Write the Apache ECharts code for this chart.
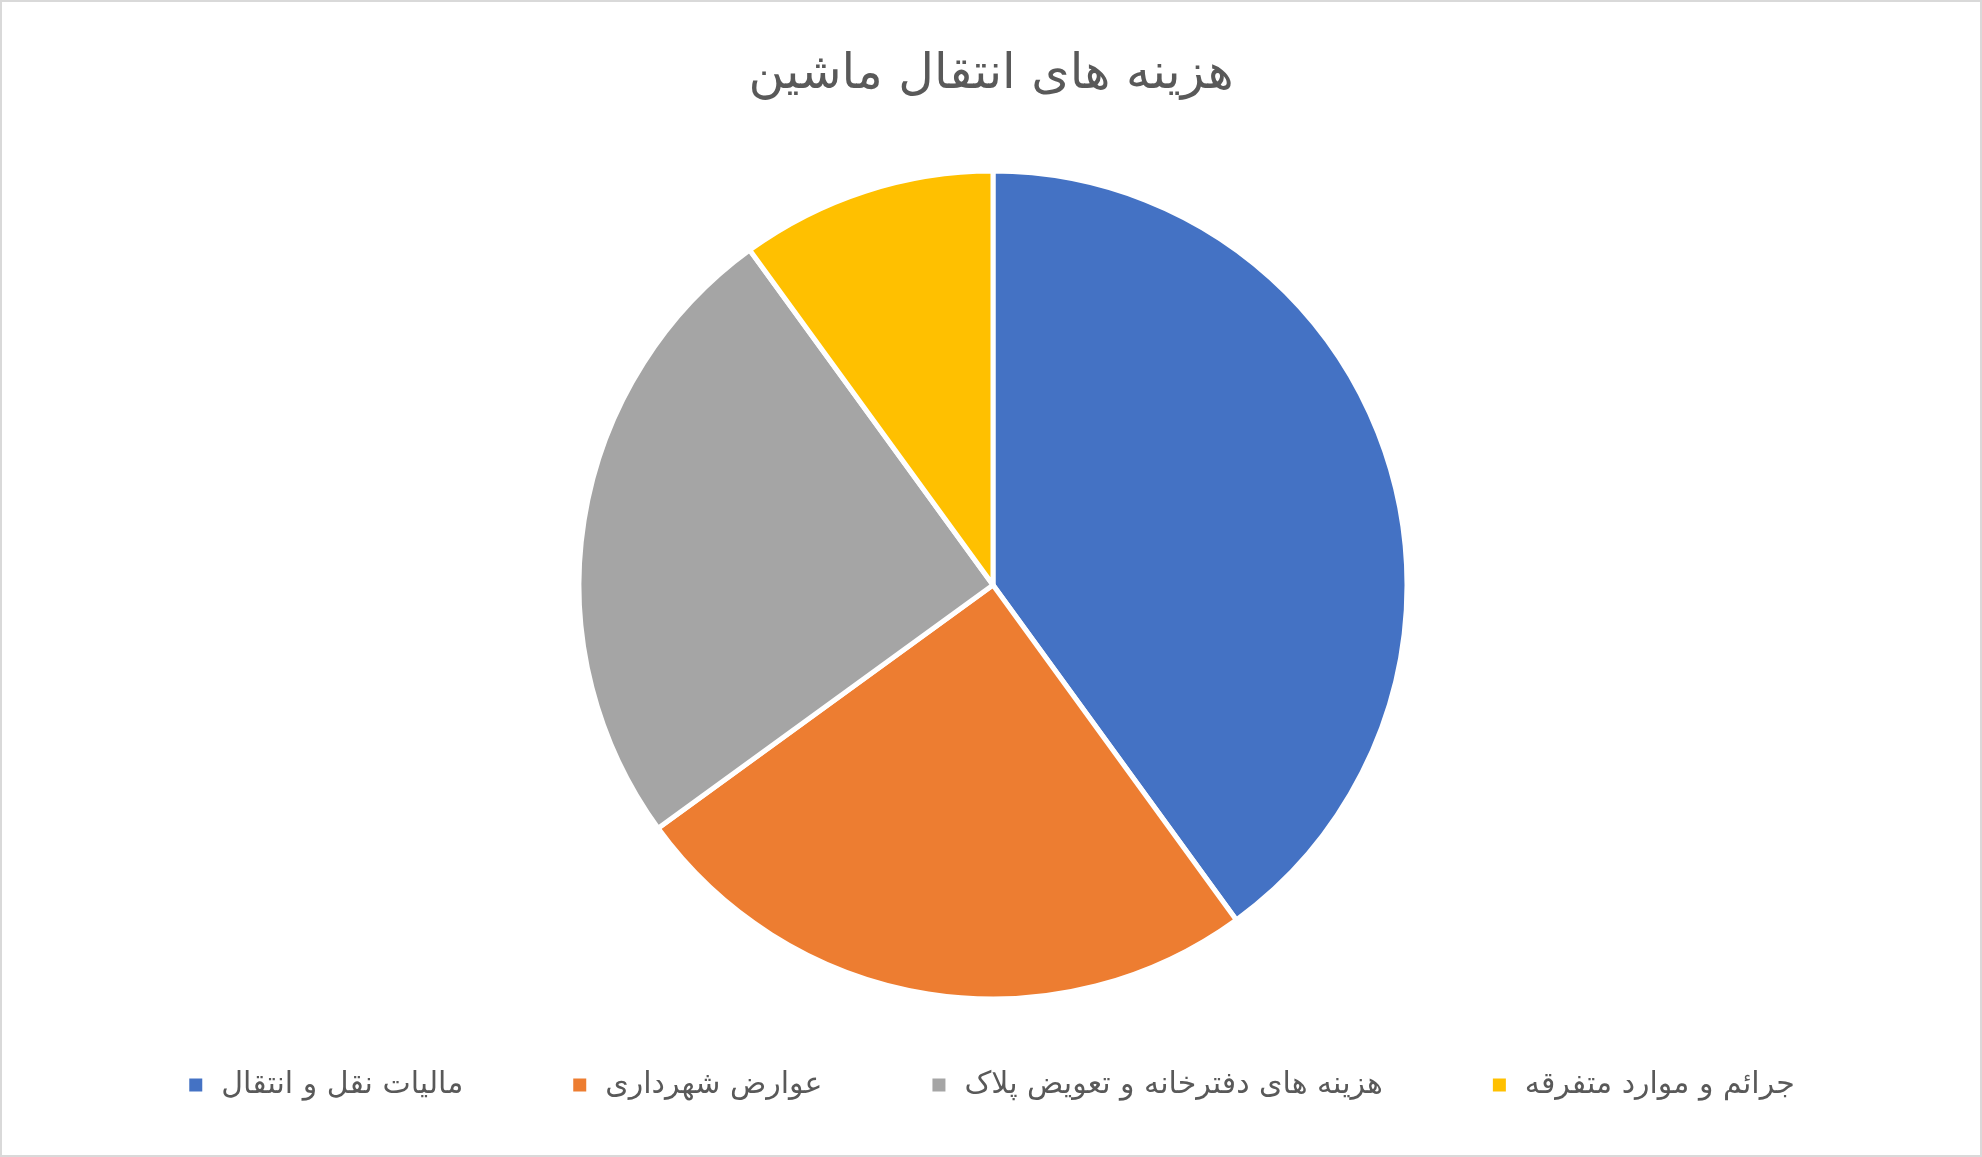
<!DOCTYPE html>
<html>
<head>
<meta charset="utf-8">
<script src="https://cdn.jsdelivr.net/npm/echarts@6/dist/echarts.min.js"></script>
<style>
html,body{margin:0;padding:0;background:#fff;}
#chart{width:1982px;height:1157px;box-sizing:border-box;border:2px solid #d9d9d9;}
</style>
</head>
<body>
<div id="chart"></div>
<script>
const titleText = 'هزینه های انتقال ماشین';
const categories = ['مالیات نقل و انتقال', 'عوارض شهرداری', 'هزینه های دفترخانه و تعویض پلاک', 'جرائم و موارد متفرقه'];
const values = [40, 25, 25, 10];
const colors = ['#4472C4', '#ED7D31', '#A5A5A5', '#FFC000'];

const chart = echarts.init(document.getElementById('chart'));
chart.setOption({
  animation: false,
  title: {
    text: titleText,
    left: 'center',
    top: 44,
    textStyle: { fontFamily: 'DejaVu Sans', fontSize: 49, fontWeight: 'normal', color: '#595959' }
  },
  legend: {
    data: categories,
    bottom: 50,
    left: 'center',
    icon: 'rect',
    itemWidth: 15,
    itemHeight: 15,
    itemGap: 108,
    textStyle: { fontFamily: 'DejaVu Sans', fontSize: 30, color: '#595959', padding: [0, 0, 0, 13] }
  },
  series: [{
    type: 'pie',
    center: [991, 583],
    radius: [0, 414],
    startAngle: 90,
    clockwise: true,
    label: { show: false },
    labelLine: { show: false },
    itemStyle: { borderColor: '#ffffff', borderWidth: 5 },
    emphasis: { disabled: true },
    data: categories.map((c, i) => ({ name: c, value: values[i], itemStyle: { color: colors[i] } }))
  }]
});
</script>
</body>
</html>
